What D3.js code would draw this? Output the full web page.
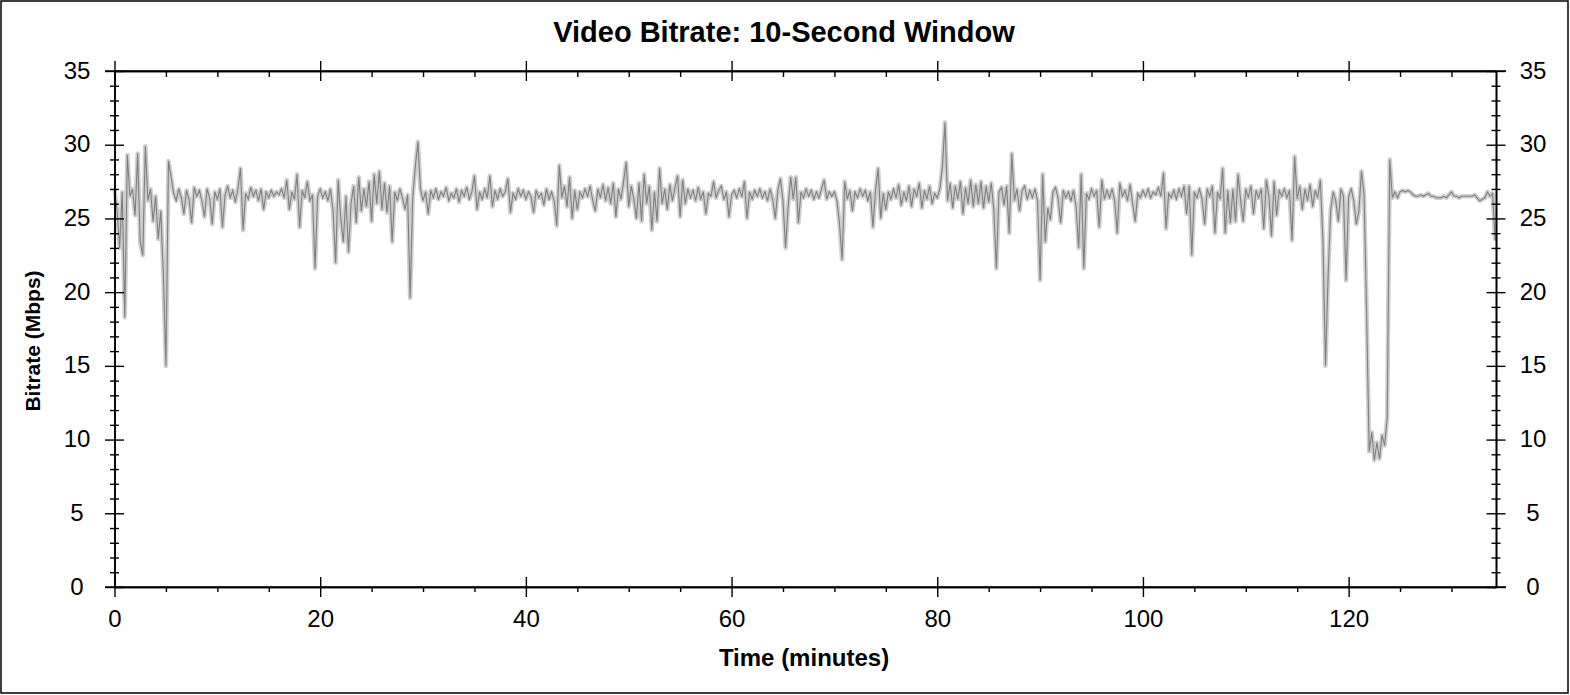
<!DOCTYPE html>
<html>
<head>
<meta charset="utf-8">
<script src="https://cdn.jsdelivr.net/npm/d3@7"></script>
<style>
  html, body { margin: 0; padding: 0; background: #fff; }
  svg { display: block; }
  text { font-family: "Liberation Sans", Arial, sans-serif; fill: #000; }
</style>
</head>
<body>
<svg id="chart" width="1570" height="695"></svg>
<script>
// ---------- DATA ----------
const chartTitle = "Video Bitrate: 10-Second Window";
const xAxisTitle = "Time (minutes)";
const yAxisTitle = "Bitrate (Mbps)";
const sampleStepMinutes = 0.25;     // one value every 15 s
const xDomainMax = 134.33;
const yTickLabels = [0, 5, 10, 15, 20, 25, 30, 35];
const xTickLabels = [0, 20, 40, 60, 80, 100, 120];
// bitrate in Mbps, one row per 5 minutes
const bitrate = [
  27.0, 25.5, 23.0, 26.8, 18.3, 29.3, 26.5, 27.0, 25.2, 29.4, 23.4, 22.5, 29.9, 26.2, 27.0, 24.8, 26.5, 23.6, 25.5, 21.2,
  15.0, 28.9, 27.8, 26.7, 26.2, 27.0, 26.4, 25.3, 26.9, 26.3, 24.7, 27.1, 26.5, 26.9, 26.2, 25.1, 27.0, 26.4, 24.6, 26.8,
  26.3, 27.0, 24.4, 26.6, 27.2, 26.4, 26.9, 26.1, 27.0, 28.4, 24.2, 26.7, 26.3, 27.1, 26.5, 26.9, 26.2, 27.0, 25.6, 26.8,
  26.4, 26.9, 26.5, 26.8, 26.6, 27.0, 26.4, 27.6, 25.6, 26.8, 26.3, 28.0, 24.4, 26.9, 26.4, 27.5, 26.2, 26.6, 21.6, 26.5,
  27.0, 26.4, 26.8, 26.2, 27.0, 25.5, 22.0, 27.6, 25.0, 23.4, 26.5, 22.7, 26.0, 27.2, 24.7, 27.8, 25.5, 27.0, 25.8, 27.5,
  24.8, 28.0, 26.0, 28.2, 25.6, 27.4, 25.4, 27.2, 23.4, 26.8, 26.2, 27.0, 26.4, 25.6, 26.6, 19.6, 26.5, 28.5, 30.2, 27.0,
  26.2, 26.8, 25.3, 26.9, 26.4, 27.0, 26.3, 26.8, 26.5, 27.1, 26.2, 26.7, 26.4, 27.0, 26.1, 26.9, 26.5, 27.1, 26.3, 26.8,
  27.9, 25.6, 26.8, 26.3, 27.0, 26.4, 27.9, 25.8, 26.9, 26.3, 27.0, 26.5, 26.8, 27.7, 25.4, 26.7, 26.3, 27.0, 26.5, 26.9,
  26.3, 26.8, 26.5, 25.4, 26.9, 26.4, 26.7, 25.9, 27.0, 26.3, 26.8, 26.2, 24.5, 28.6, 26.4, 27.2, 25.8, 27.8, 25.0, 26.9,
  25.6, 26.8, 26.4, 27.0, 26.5, 27.2, 26.2, 25.5, 27.0, 26.4, 27.3, 26.2, 27.1, 26.0, 27.4, 25.1, 27.0, 26.3, 27.5, 28.8,
  25.8, 27.2, 26.3, 25.0, 27.4, 24.8, 28.0, 26.0, 27.2, 24.2, 26.8, 24.8, 28.4, 26.0, 27.0, 25.6, 27.3, 26.2, 27.1, 27.9,
  25.1, 27.6, 26.0, 27.0, 26.4, 26.9, 26.2, 27.1, 26.3, 26.8, 25.3, 26.7, 26.5, 27.5, 26.4, 26.9, 27.2, 26.3, 26.8, 25.1,
  26.6, 26.9, 26.4, 27.0, 26.5, 27.5, 25.0, 26.8, 26.3, 26.9, 26.5, 27.0, 26.4, 26.8, 26.2, 27.0, 26.3, 25.0, 26.9, 27.7,
  26.2, 23.0, 25.8, 27.8, 26.3, 27.8, 24.7, 26.8, 26.4, 27.0, 26.5, 26.9, 26.3, 26.8, 26.4, 27.0, 27.6, 26.3, 26.8, 26.5,
  26.8, 26.2, 24.6, 22.2, 27.5, 26.3, 26.9, 25.5, 26.8, 26.4, 27.0, 26.5, 26.9, 26.2, 26.8, 24.4, 26.9, 28.4, 25.0, 26.7,
  25.6, 26.8, 26.3, 27.0, 26.4, 27.3, 25.9, 26.8, 26.2, 27.2, 25.8, 27.0, 26.5, 27.4, 25.7, 26.9, 26.3, 27.2, 26.0, 26.7,
  26.4, 27.0, 28.5, 31.5, 26.2, 27.4, 25.7, 27.2, 26.3, 27.5, 25.3, 27.1, 26.0, 27.6, 25.8, 27.3, 26.0, 27.5, 25.7, 27.2,
  26.1, 27.4, 25.6, 21.6, 26.8, 27.1, 25.9, 27.2, 24.0, 29.4, 26.2, 27.0, 25.5, 26.9, 27.2, 26.3, 26.9, 26.4, 27.0, 26.2,
  20.8, 28.0, 23.4, 25.7, 24.9, 26.8, 27.1, 26.4, 24.7, 26.9, 26.4, 26.8, 26.2, 26.9, 25.8, 23.0, 28.0, 21.6, 26.7, 26.3,
  27.0, 26.5, 26.9, 24.4, 27.6, 26.3, 26.9, 26.4, 27.0, 26.2, 24.0, 27.4, 26.5, 26.9, 26.2, 27.3, 26.0, 24.8, 26.7, 26.4,
  26.9, 26.5, 27.0, 26.4, 26.8, 26.6, 27.1, 26.5, 28.1, 24.3, 26.7, 26.4, 26.9, 26.3, 27.0, 26.5, 27.2, 25.3, 27.2, 22.5,
  26.8, 26.4, 27.0, 26.3, 24.6, 27.0, 26.5, 27.2, 24.0, 26.8, 26.3, 28.4, 24.0, 26.9, 24.7, 27.0, 24.8, 28.0, 26.2, 24.8,
  27.0, 26.4, 27.2, 25.3, 26.9, 26.4, 27.0, 24.3, 27.6, 26.5, 23.8, 27.5, 25.2, 26.9, 26.5, 27.0, 26.4, 26.9, 23.5, 29.2,
  26.3, 27.2, 25.6, 27.0, 26.2, 27.3, 25.8, 26.9, 26.4, 27.6, 23.5, 15.0, 21.0, 25.5, 26.8, 26.2, 24.8, 27.0, 26.5, 20.8,
  26.5, 27.0, 26.2, 24.6, 25.5, 28.2, 26.6, 18.5,  9.2, 10.5,  8.6,  9.8,  8.7, 10.3,  9.6, 11.5, 29.0, 26.4, 26.8, 26.4,
  26.8, 26.9, 26.8, 26.9, 26.8, 26.6, 26.5, 26.5, 26.6, 26.5, 26.6, 26.7, 26.5, 26.5, 26.4, 26.4, 26.4, 26.5, 26.4, 26.6,
  26.8, 26.5, 26.5, 26.4, 26.5, 26.5, 26.5, 26.5, 26.5, 26.6, 26.4, 26.2, 26.3, 26.4, 26.8, 26.5, 26.7, 23.5
];

// ---------- CHART ----------
(function () {
const svg = d3.select("#chart");
const W = 1570, H = 695;
const plotLeft = 114.5, plotRight = 1496, plotTop = 71, plotBottom = 587;

svg.append("rect").attr("x", 0).attr("y", 0).attr("width", W).attr("height", H).attr("fill", "#fff");
svg.append("rect").attr("x", 1).attr("y", 1).attr("width", W - 3).attr("height", H - 3)
  .attr("fill", "none").attr("stroke", "#000").attr("stroke-width", 1.5);

const x = d3.scaleLinear().domain([0, xDomainMax]).range([plotLeft, plotRight]);
const y = d3.scaleLinear().domain([0, 35]).range([plotBottom, plotTop]);

const points = bitrate.map((v, i) => [i * sampleStepMinutes, v]);
const line = d3.line().x(d => x(d[0])).y(d => y(d[1]));

svg.append("path").datum(points).attr("d", line)
  .attr("fill", "none").attr("stroke", "#cfcfcf").attr("stroke-width", 4.5).attr("stroke-linejoin", "round");
svg.append("path").datum(points).attr("d", line)
  .attr("fill", "none").attr("stroke", "#7f7f7f").attr("stroke-width", 1.1).attr("stroke-linejoin", "miter");

const yMinor = d3.range(0, 36).filter(v => v % 5 !== 0);
const xMinor = d3.range(0, 135, 5).filter(v => v % 20 !== 0);

function styleAxis(g) {
  g.select(".domain").attr("stroke", "#000").attr("stroke-width", 1.6);
  g.selectAll(".tick line").attr("stroke", "#000").attr("stroke-width", 1.4);
  g.selectAll(".tick text").style("font-family", '"Liberation Sans", Arial, sans-serif')
    .style("font-size", "24px").attr("fill", "#000");
}

// left
const gL = svg.append("g").attr("transform", `translate(${plotLeft},0)`)
  .call(d3.axisLeft(y).tickValues(yTickLabels).tickSize(9.5).tickSizeOuter(0));
gL.selectAll(".tick line").attr("x1", 9.5).attr("x2", -9.5);
gL.selectAll(".tick text").attr("x", -37.5).attr("dy", 7).attr("text-anchor", "middle");
styleAxis(gL);
const gLm = svg.append("g").attr("transform", `translate(${plotLeft},0)`)
  .call(d3.axisLeft(y).tickValues(yMinor).tickSize(4.5).tickFormat("").tickSizeOuter(0));
gLm.selectAll(".tick line").attr("x1", 4.5).attr("x2", -4.5);
styleAxis(gLm);

// right
const gR = svg.append("g").attr("transform", `translate(${plotRight},0)`)
  .call(d3.axisRight(y).tickValues(yTickLabels).tickSize(9.5).tickSizeOuter(0));
gR.selectAll(".tick line").attr("x1", -9.5).attr("x2", 9.5);
gR.selectAll(".tick text").attr("x", 37).attr("dy", 7).attr("text-anchor", "middle");
styleAxis(gR);
const gRm = svg.append("g").attr("transform", `translate(${plotRight},0)`)
  .call(d3.axisRight(y).tickValues(yMinor).tickSize(4.5).tickFormat("").tickSizeOuter(0));
gRm.selectAll(".tick line").attr("x1", -4.5).attr("x2", 4.5);
styleAxis(gRm);

// bottom
const gB = svg.append("g").attr("transform", `translate(0,${plotBottom})`)
  .call(d3.axisBottom(x).tickValues(xTickLabels).tickSize(10).tickSizeOuter(0));
gB.selectAll(".tick line").attr("y1", -10).attr("y2", 10);
gB.selectAll(".tick text").attr("y", 40).attr("dy", 0);
styleAxis(gB);
const gBm = svg.append("g").attr("transform", `translate(0,${plotBottom})`)
  .call(d3.axisBottom(x).tickValues(xMinor).tickSize(5).tickFormat("").tickSizeOuter(0));
styleAxis(gBm);

// top
const gT = svg.append("g").attr("transform", `translate(0,${plotTop})`)
  .call(d3.axisTop(x).tickValues(xTickLabels).tickSize(10).tickFormat("").tickSizeOuter(0));
gT.selectAll(".tick line").attr("y1", -10).attr("y2", 10);
styleAxis(gT);
const gTm = svg.append("g").attr("transform", `translate(0,${plotTop})`)
  .call(d3.axisTop(x).tickValues(xMinor).tickSize(6).tickFormat("").tickSizeOuter(0));
gTm.selectAll(".tick line").attr("y1", 0).attr("y2", 6);
styleAxis(gTm);

// extend horizontal frame lines to the outer tick length
svg.append("line").attr("x1", 105).attr("x2", 1506).attr("y1", plotBottom).attr("y2", plotBottom)
  .attr("stroke", "#000").attr("stroke-width", 1.6);
svg.append("line").attr("x1", 105).attr("x2", 1506).attr("y1", plotTop).attr("y2", plotTop)
  .attr("stroke", "#000").attr("stroke-width", 1.6);

// titles
svg.append("text").attr("x", 784).attr("y", 42).attr("text-anchor", "middle")
  .style("font-size", "29px").style("font-weight", "bold").text(chartTitle);
svg.append("text").attr("x", 804).attr("y", 666).attr("text-anchor", "middle")
  .style("font-size", "24px").style("font-weight", "bold").text(xAxisTitle);
svg.append("text").attr("transform", `translate(40,341) rotate(-90)`).attr("text-anchor", "middle")
  .style("font-size", "21px").style("font-weight", "bold").text(yAxisTitle);
})();
</script>
</body>
</html>
